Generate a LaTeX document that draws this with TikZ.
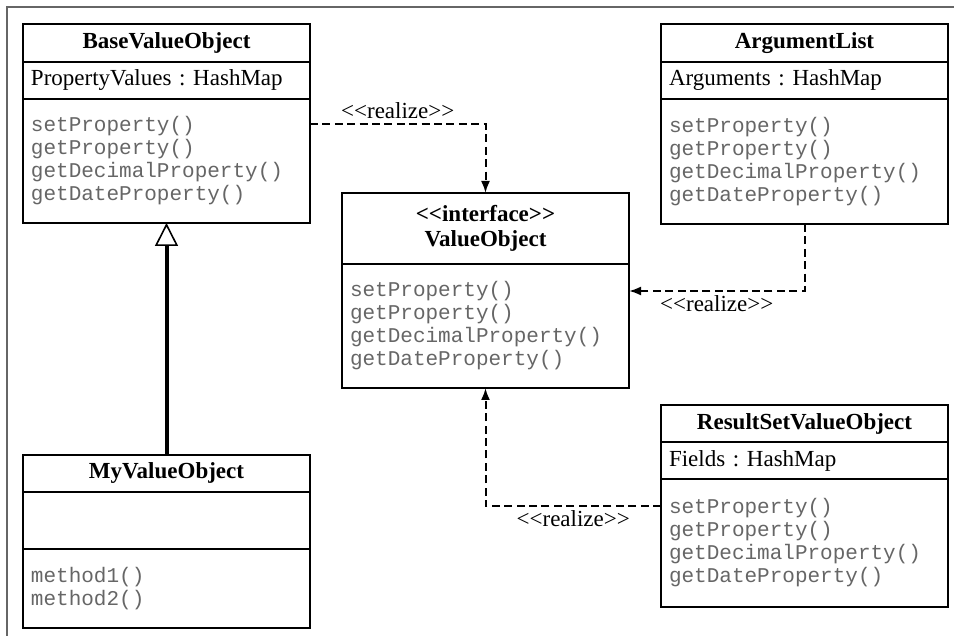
\documentclass[tikz,border=0pt]{standalone}
\usepackage{fontspec}
\setmainfont{Liberation Serif}
\setmonofont{Liberation Mono}
\usetikzlibrary{positioning,arrows.meta}
\newcommand{\stl}{<\kern0pt<}
\newcommand{\stg}{>\kern0pt>}
\frenchspacing
\begin{document}
\begin{tikzpicture}[x=0.5pt, y=-0.5pt,
	box/.style={draw, line width=0.8pt, outer sep=0pt, inner xsep=4pt, inner ysep=2pt, text width=135.5pt},
	clstitle/.style={box, align=center, font=\fontsize{11.5}{12.5}\selectfont\bfseries, minimum height=19pt},
	clsattr/.style={box, align=left, font=\fontsize{11.5}{13}\selectfont, minimum height=18.5pt},
	clsops/.style={box, align=left, font=\fontsize{10.5}{11.5}\selectfont\ttfamily, text=black!60},
	realize/.style={line width=1pt, dash pattern=on 4pt off 2.2pt, -{Latex[length=6pt, width=4.5pt]}},
	inherit/.style={line width=2pt, -{Triangle[open, length=11.5pt, width=11.5pt, line width=0.8pt]}},
	lbl/.style={font=\fontsize{11.5}{12.5}\selectfont, inner sep=2pt}]
		\useasboundingbox (0,0) rectangle (954,636);
		\coordinate (frame-bl) at (7,636);
		\coordinate (frame-tr) at (954,7);
		\draw[black!60, line width=1pt] (frame-bl) |- (frame-tr);

		\node (base) at (166.5,43) [clstitle] {BaseValueObject};
		\node (base-attr) [clsattr, below=0pt of base] {PropertyValues : HashMap};
		\node (base-ops) [clsops, minimum height=62pt, below=0pt of base-attr] {setProperty()\\getProperty()\\getDecimalProperty()\\getDateProperty()};

		\node (arg) at (804.5,43) [clstitle] {ArgumentList};
		\node (arg-attr) [clsattr, below=0pt of arg] {Arguments : HashMap};
		\node (arg-ops) [clsops, minimum height=62.5pt, below=0pt of arg-attr] {setProperty()\\getProperty()\\getDecimalProperty()\\getDateProperty()};

		\node (vo) at (485.5,228.5) [clstitle, minimum height=35.5pt] {\stl interface\stg\\ValueObject};
		\node (vo-ops) [clsops, minimum height=62pt, below=0pt of vo] {setProperty()\\getProperty()\\getDecimalProperty()\\getDateProperty()};

		\node (my) at (166.5,473.5) [clstitle, minimum height=18.5pt] {MyValueObject};
		\node (my-attr) [clsattr, minimum height=28.5pt, below=0pt of my] {};
		\node (my-ops) [clsops, minimum height=39.5pt, below=0pt of my-attr] {method1()\\method2()};

		\node (rs) at (804.5,423.5) [clstitle, minimum height=18.5pt] {ResultSetValueObject};
		\node (rs-attr) [clsattr, below=0pt of rs] {Fields : HashMap};
		\node (rs-ops) [clsops, minimum height=64pt, below=0pt of rs-attr] {setProperty()\\getProperty()\\getDecimalProperty()\\getDateProperty()};

		\draw[realize] ([yshift=-12.5pt]base-ops.north east) -| (vo.north) node[lbl, pos=0.25, above] {\stl realize\stg};
		\draw[realize] (arg-ops.south) |- ([yshift=-13.5pt]vo-ops.north east) node[lbl, pos=0.75, below] {\stl realize\stg};
		\draw[realize] ([yshift=-13.5pt]rs-ops.north west) -| (vo-ops.south) node[lbl, pos=0.25, below] {\stl realize\stg};
		\draw[inherit] (my.north) -- (base-ops.south);
\end{tikzpicture}
\end{document}
